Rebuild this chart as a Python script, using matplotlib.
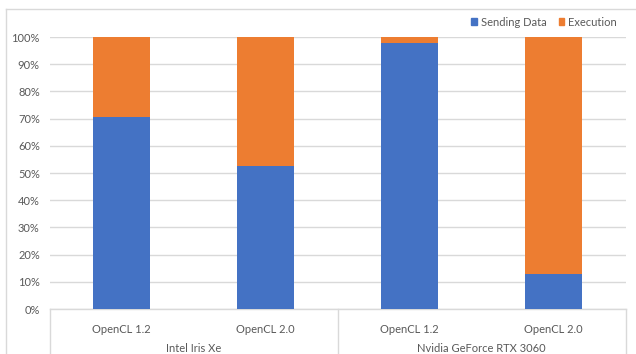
import matplotlib
matplotlib.use("Agg")
import matplotlib.pyplot as plt
from matplotlib.lines import Line2D
from matplotlib.patches import Patch
import numpy as np

plt.rcParams['font.family'] = ['Lato', 'DejaVu Sans']

apis = ["OpenCL 1.2", "OpenCL 2.0", "OpenCL 1.2", "OpenCL 2.0"]
devices = ["Intel Iris Xe", "Nvidia GeForce RTX 3060"]
sending = [70.6, 52.7, 97.8, 13.0]
execution = [100 - s for s in sending]
yticks = [0, 10, 20, 30, 40, 50, 60, 70, 80, 90, 100]

BLUE = "#4472C4"
ORANGE = "#ED7D31"
GRID = "#D9D9D9"
TXT = "#595959"
FS = 8

W, H = 636, 354
fig = plt.figure(figsize=(W / 100, H / 100), dpi=100)
ax = fig.add_axes([49.5 / W, 45 / H, 576 / W, 272 / H])

x = np.arange(len(apis))
ax.bar(x, sending, width=0.4, color=BLUE, zorder=3, label="Sending Data")
ax.bar(x, execution, width=0.4, bottom=sending, color=ORANGE, zorder=3, label="Execution")

ax.set_xlim(-0.5, len(apis) - 0.5)
ax.set_ylim(0, 100)
ax.set_yticks(yticks)
ax.set_yticklabels([f"{t}%" for t in yticks], fontsize=FS, color=TXT)
ax.yaxis.grid(True, color=GRID, lw=1, zorder=0)
ax.tick_params(axis='y', length=0, pad=7)
ax.tick_params(axis='x', length=0, pad=10.5)
ax.set_xticks(x)
ax.set_xticklabels(apis, fontsize=FS, color=TXT)
for s in ["top", "right", "left"]:
    ax.spines[s].set_visible(False)
ax.spines["bottom"].set_color(GRID)
ax.spines["bottom"].set_linewidth(1)

def fx(px):
    return px / W

def fy(py):
    return 1 - py / H

# group separators
for px in [49.5, 337.5, 625.5]:
    fig.add_artist(Line2D([fx(px), fx(px)], [fy(309), fy(354)], color=GRID, lw=1))

# group labels
for i, d in enumerate(devices):
    cx = (49.5 + 288 * i + 144) / W
    fig.text(cx, fy(348), d, ha="center", va="center", fontsize=FS, color=TXT)

# chart border (partially cropped)
fig.add_artist(Line2D([fx(6), fx(6)], [fy(9), 0], color=GRID, lw=1))
fig.add_artist(Line2D([fx(6), 1], [fy(9), fy(9)], color=GRID, lw=1))

handles = [Patch(color=BLUE, label="Sending Data"), Patch(color=ORANGE, label="Execution")]
fig.legend(handles=handles, loc="center right", bbox_to_anchor=(fx(617), fy(22)),
           ncol=2, frameon=False, fontsize=FS, handlelength=0.5, handleheight=0.5,
           handletextpad=0.36, columnspacing=1.1, labelcolor=TXT, borderaxespad=0,
           borderpad=0)

fig.savefig("out.png", dpi=100)
